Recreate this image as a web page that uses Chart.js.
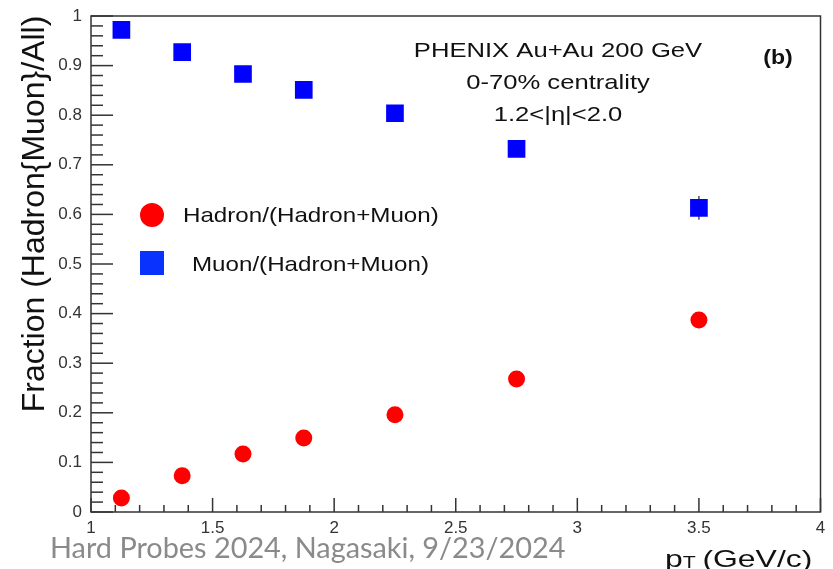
<!DOCTYPE html>
<html>
<head>
<meta charset="utf-8">
<script src="https://cdn.jsdelivr.net/npm/chart.js@4"></script>
<style>
  html, body { margin: 0; padding: 0; background: #fff; }
  canvas { display: block; }
</style>
</head>
<body>
<canvas id="fracChart" width="833" height="569"></canvas>
<script>
// pT bin centres (GeV/c) and the fractions in each bin
const ptBins = [1.125, 1.375, 1.625, 1.875, 2.25, 2.75, 3.5];
const hadronFrac = [0.028, 0.073, 0.117, 0.149, 0.196, 0.268, 0.387];
const muonFrac = [0.972, 0.927, 0.883, 0.851, 0.804, 0.732, 0.613];
const muonErr = [0.004, 0.004, 0.005, 0.006, 0.008, 0.012, 0.024];

const xTickValues = [1, 1.5, 2, 2.5, 3, 3.5, 4];
const xTickLabels = ['1', '1.5', '2', '2.5', '3', '3.5', '4'];
const yTickValues = [0, 0.1, 0.2, 0.3, 0.4, 0.5, 0.6, 0.7, 0.8, 0.9, 1];
const yTickLabels = ['0', '0.1', '0.2', '0.3', '0.4', '0.5', '0.6', '0.7', '0.8', '0.9', '1'];

const seriesNames = ['Hadron/(Hadron+Muon)', 'Muon/(Hadron+Muon)'];

const FONT = '"Liberation Sans", Arial, Helvetica, sans-serif';
const AXIS_COLOR = '#333';

function toPoints(ys) {
  return ptBins.map((x, i) => ({ x: x, y: ys[i] }));
}

// horizontally stretched text (the labels use a wide Helvetica)
function wideText(g, text, x, y, sx, align) {
  g.save();
  g.translate(x, y);
  g.scale(sx, 1);
  g.textAlign = align || 'left';
  g.fillText(text, 0, 0);
  g.restore();
}

function drawTick(g, x1, y1, x2, y2) {
  g.beginPath();
  g.moveTo(x1, y1);
  g.lineTo(x2, y2);
  g.stroke();
}

// white page, frame, inward ticks (major + minor), error bars, text
const frameAndTicks = {
  id: 'frameAndTicks',
  beforeDraw(chart) {
    const g = chart.ctx;
    g.save();
    g.fillStyle = '#fff';
    g.fillRect(0, 0, chart.width, chart.height);
    g.restore();
  },
  beforeDatasetsDraw(chart) {
    const g = chart.ctx;
    const xs = chart.scales.x, ys = chart.scales.y;
    // vertical error bars on the muon points
    g.save();
    g.strokeStyle = '#222';
    g.lineWidth = 1.2;
    ptBins.forEach((x, i) => {
      const px = xs.getPixelForValue(x);
      drawTick(g, px, ys.getPixelForValue(muonFrac[i] - muonErr[i]),
               px, ys.getPixelForValue(muonFrac[i] + muonErr[i]));
    });
    g.restore();
  },
  afterDraw(chart) {
    const g = chart.ctx;
    const a = chart.chartArea;
    const xs = chart.scales.x, ys = chart.scales.y;
    g.save();
    g.strokeStyle = AXIS_COLOR;
    g.lineWidth = 1.5;
    g.strokeRect(a.left, a.top, a.right - a.left, a.bottom - a.top);

    // y ticks every 0.02, major every 0.1
    for (let i = 0; i <= 50; i++) {
      const py = ys.getPixelForValue(i / 50);
      const len = (i % 5 === 0) ? 22 : 12;
      drawTick(g, a.left, py, a.left + len, py);
    }
    // x ticks every 0.1, major every 0.5
    for (let i = 0; i <= 30; i++) {
      const px = xs.getPixelForValue(1 + i / 10);
      const len = (i % 5 === 0) ? 14 : 7;
      drawTick(g, px, a.bottom, px, a.bottom - len);
    }
    g.restore();

    // legend
    const ds = chart.data.datasets;
    g.save();
    g.font = '21px ' + FONT;
    g.textBaseline = 'middle';
    g.fillStyle = ds[0].backgroundColor;
    g.beginPath();
    g.arc(152, 215, 12, 0, Math.PI * 2);
    g.fill();
    g.fillStyle = '#111';
    wideText(g, ds[0].label, 183, 216, 1.15);
    g.fillStyle = '#0a32ff';
    g.fillRect(140, 251, 24, 24);
    g.fillStyle = '#111';
    wideText(g, ds[1].label, 192, 265, 1.15);
    g.restore();

    // header text
    g.save();
    g.fillStyle = '#111';
    g.textBaseline = 'middle';
    g.font = '21px ' + FONT;
    wideText(g, 'PHENIX Au+Au 200 GeV', 558, 51, 1.22, 'center');
    wideText(g, '0-70% centrality', 558, 83, 1.22, 'center');
    wideText(g, '1.2<|η|<2.0', 558, 115, 1.22, 'center');
    g.font = 'bold 21px ' + FONT;
    wideText(g, '(b)', 778, 58, 1.1, 'center');
    g.restore();

    // y axis title
    g.save();
    g.fillStyle = '#111';
    g.font = '32px ' + FONT;
    g.textAlign = 'center';
    g.textBaseline = 'middle';
    g.translate(35, 214);
    g.rotate(-Math.PI / 2);
    g.fillText('Fraction (Hadron{Muon}/All)', 0, 0);
    g.restore();

    // x axis title: p with subscript T
    g.save();
    g.fillStyle = '#111';
    g.textBaseline = 'alphabetic';
    g.translate(665, 567);
    g.scale(1.33, 1);
    g.font = '24px ' + FONT;
    let x0 = 0;
    g.fillText('p', x0, 0);
    x0 += g.measureText('p').width;
    g.font = '16px ' + FONT;
    g.fillText('T', x0, 1);
    x0 += g.measureText('T').width + 5;
    g.font = '24px ' + FONT;
    g.fillText('(GeV/c)', x0, 0);
    g.restore();

    // conference footer
    g.save();
    g.fillStyle = '#8a8a8a';
    g.font = '28px Lato, "Open Sans", sans-serif';
    g.textBaseline = 'alphabetic';
    wideText(g, 'Hard Probes 2024, Nagasaki, 9/23/2024', 50, 558, 1.03);
    g.restore();
  }
};

const ctx = document.getElementById('fracChart').getContext('2d');
new Chart(ctx, {
  type: 'scatter',
  data: {
    datasets: [
      {
        label: seriesNames[0],
        data: toPoints(hadronFrac),
        pointStyle: 'circle',
        pointRadius: 8.5,
        backgroundColor: '#ff0000',
        borderColor: '#ff0000',
        borderWidth: 0
      },
      {
        label: seriesNames[1],
        data: toPoints(muonFrac),
        pointStyle: 'rect',
        pointRadius: 12.5,
        backgroundColor: '#0000ff',
        borderColor: '#0000ff',
        borderWidth: 0
      }
    ]
  },
  options: {
    responsive: false,
    animation: false,
    layout: { padding: { left: 0, right: 10, top: 16, bottom: 0 } },
    plugins: { legend: { display: false }, tooltip: { enabled: false } },
    scales: {
      x: {
        type: 'linear',
        min: 1,
        max: 4,
        grid: { display: false, drawTicks: false, tickLength: 0 },
        border: { display: false },
        afterBuildTicks(scale) { scale.ticks = xTickValues.map(v => ({ value: v })); },
        afterFit(scale) {
          scale.height = 57;
          // keep the frame where the layout padding puts it
          scale.paddingLeft = 0;
          scale.paddingRight = 0;
        },
        ticks: {
          padding: 6,
          color: AXIS_COLOR,
          font: { family: FONT, size: 17 },
          maxRotation: 0,
          autoSkip: false,
          callback: (v, i) => xTickLabels[i]
        }
      },
      y: {
        type: 'linear',
        min: 0,
        max: 1,
        grid: { display: false, drawTicks: false, tickLength: 0 },
        border: { display: false },
        afterBuildTicks(scale) { scale.ticks = yTickValues.map(v => ({ value: v })); },
        afterFit(scale) {
          scale.width = 91;
          scale.paddingTop = 0;
          scale.paddingBottom = 0;
        },
        ticks: {
          padding: 9,
          color: AXIS_COLOR,
          font: { family: FONT, size: 17 },
          autoSkip: false,
          callback: (v, i) => yTickLabels[i]
        }
      }
    }
  },
  plugins: [frameAndTicks]
});
</script>
</body>
</html>
